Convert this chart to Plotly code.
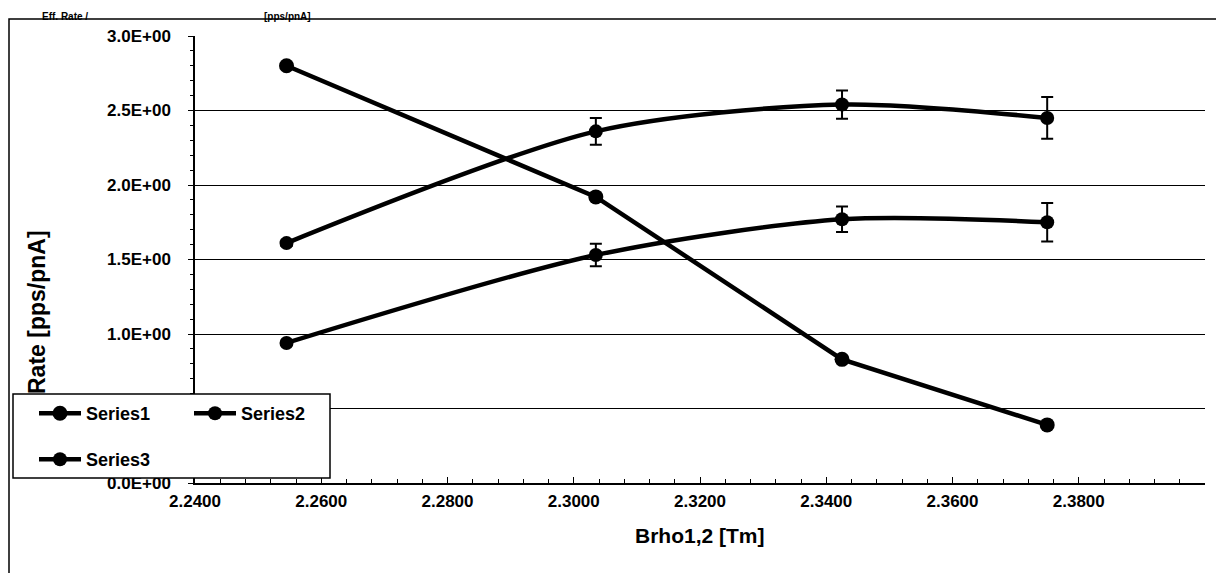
import plotly.graph_objects as go

# ---- data ----
brho = [2.2545, 2.3035, 2.3425, 2.3750]
series1 = [2.80, 1.92, 0.83, 0.39]
series2 = [1.61, 2.36, 2.54, 2.45]
series2_err = [0.02, 0.09, 0.095, 0.14]
series3 = [0.94, 1.53, 1.77, 1.75]
series3_err = [0.01, 0.075, 0.085, 0.13]

y_tickvals = [0.0, 0.5, 1.0, 1.5, 2.0, 2.5, 3.0]
# the 0.5 label is hidden behind the legend in the reference
y_ticktext = ["0.0E+00", "", "1.0E+00", "1.5E+00", "2.0E+00", "2.5E+00", "3.0E+00"]
x_tickvals = [2.24, 2.26, 2.28, 2.30, 2.32, 2.34, 2.36, 2.38, 2.40]
x_ticktext = ["2.2400", "2.2600", "2.2800", "2.3000", "2.3200", "2.3400", "2.3600", "2.3800", "2.4000"]

FONT = "Liberation Sans, Arial, sans-serif"
BOLD = dict(family=FONT, color="black", weight="bold")

OFF = 8                      # default body margin of the html page
W, H = 1224 - 2 * OFF, 581 - 2 * OFF
L = 195 - OFF
R = W - (1205 - OFF)
T = 36 - OFF
B = H - (483 - OFF)
pw, ph = W - L - R, H - T - B


def px_x(p):                 # page pixel -> paper x
    return (p - OFF - L) / pw


def px_y(p):                 # page pixel -> paper y
    return (H - B - (p - OFF)) / ph


fig = go.Figure()

fig.add_trace(go.Scatter(
    x=brho, y=series1, name="Series1", mode="lines+markers",
    line=dict(color="black", width=4.5),
    marker=dict(color="black", size=15, symbol="circle"),
    legend="legend",
))
fig.add_trace(go.Scatter(
    x=brho, y=series2, name="Series2", mode="lines+markers",
    line=dict(color="black", width=4.5, shape="spline", smoothing=0.8),
    marker=dict(color="black", size=14, symbol="circle"),
    error_y=dict(type="data", array=series2_err, visible=True,
                 color="black", thickness=2, width=6),
    legend="legend",
))
fig.add_trace(go.Scatter(
    x=brho, y=series3, name="Series3", mode="lines+markers",
    line=dict(color="black", width=4.5, shape="spline", smoothing=0.8),
    marker=dict(color="black", size=14, symbol="circle"),
    error_y=dict(type="data", array=series3_err, visible=True,
                 color="black", thickness=2, width=6),
    legend="legend2",
))

# outer chart border
fig.add_shape(type="rect", xref="paper", yref="paper",
              x0=px_x(9), x1=px_x(1240), y0=px_y(575), y1=px_y(19),
              line=dict(color="black", width=1.5), fillcolor="rgba(0,0,0,0)",
              layer="below")
# legend box
fig.add_shape(type="rect", xref="paper", yref="paper",
              x0=px_x(13), x1=px_x(330), y0=px_y(478), y1=px_y(394),
              line=dict(color="black", width=1.5), fillcolor="white",
              layer="above")

annotations = [
    dict(text="Rate [pps/pnA]", x=px_x(22), y=px_y(312), xref="paper", yref="paper",
         textangle=-90, showarrow=False, font=dict(size=23, **BOLD)),
    dict(text="Brho1,2 [Tm]", x=px_x(700), y=px_y(549), xref="paper", yref="paper",
         showarrow=False, font=dict(size=21, **BOLD)),
    dict(text="Eff. Rate /", x=px_x(40), y=px_y(9), xref="paper", yref="paper",
         xanchor="left", yanchor="top", showarrow=False, font=dict(size=10, **BOLD)),
    dict(text="[pps/pnA]", x=px_x(262), y=px_y(9), xref="paper", yref="paper",
         xanchor="left", yanchor="top", showarrow=False, font=dict(size=10, **BOLD)),
]

fig.update_layout(
    width=W, height=H,
    margin=dict(l=L, r=R, t=T, b=B, autoexpand=False),
    paper_bgcolor="white", plot_bgcolor="white",
    font=dict(family=FONT, color="black"),
    annotations=annotations,
    legend=dict(orientation="h", x=px_x(34), y=px_y(395), xanchor="left", yanchor="top",
                bgcolor="rgba(0,0,0,0)", borderwidth=0, entrywidth=98,
                entrywidthmode="pixels", itemwidth=42,
                font=dict(size=18, **BOLD)),
    legend2=dict(orientation="h", x=px_x(34), y=px_y(441), xanchor="left", yanchor="top",
                 bgcolor="rgba(0,0,0,0)", borderwidth=0, itemwidth=42,
                 font=dict(size=18, **BOLD)),
    xaxis=dict(range=[2.24, 2.40], tickvals=x_tickvals, ticktext=x_ticktext,
               showgrid=False, zeroline=False, showline=True, linecolor="black",
               linewidth=1.5, ticks="inside", ticklen=6, tickcolor="black",
               minor=dict(dtick=0.004, ticks="inside", ticklen=4, tickcolor="black"),
               tickfont=dict(size=17, **BOLD), ticklabelstandoff=2),
    yaxis=dict(range=[0, 3.0], tickvals=y_tickvals, ticktext=y_ticktext,
               showgrid=True, gridcolor="black", gridwidth=1,
               zeroline=False, showline=True, linecolor="black", linewidth=1.5,
               ticks="outside", ticklen=5, tickcolor="black",
               minor=dict(dtick=0.1, ticks="outside", ticklen=3, tickcolor="black",
                          showgrid=False),
               tickfont=dict(size=17, **BOLD), ticklabelstandoff=14),
    showlegend=True,
)

fig.write_html("out.html")
